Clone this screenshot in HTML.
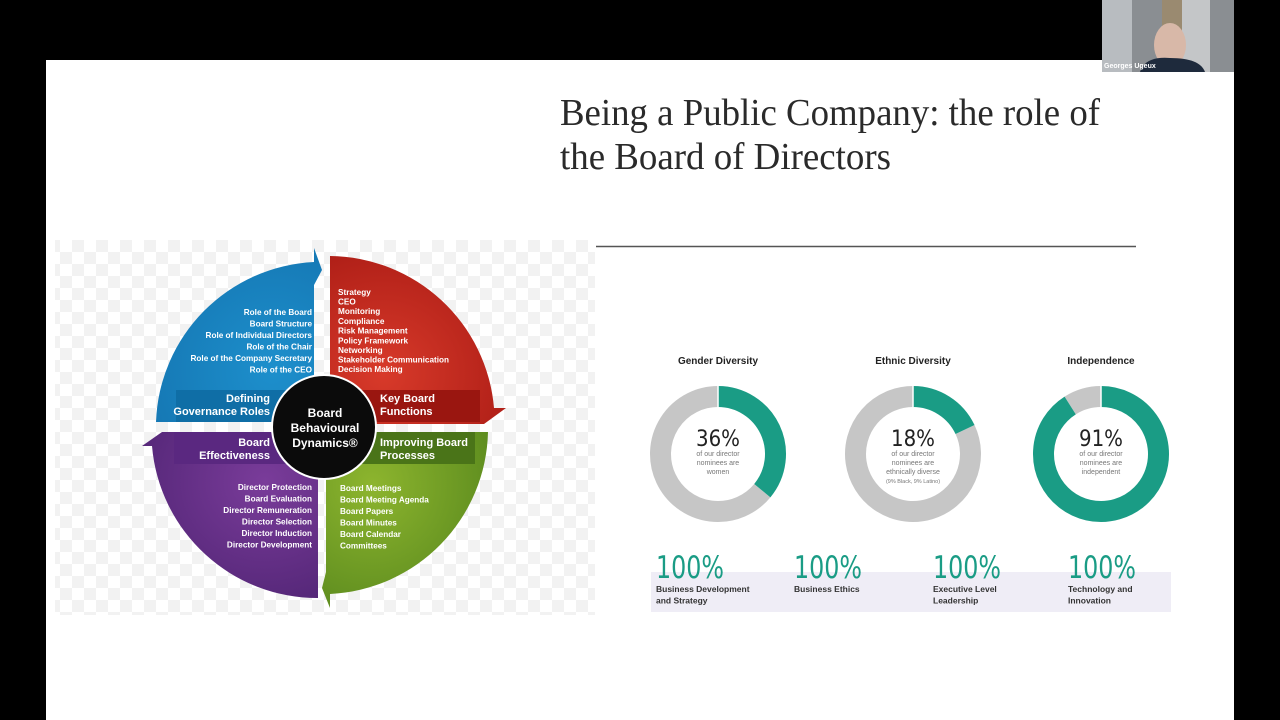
<!DOCTYPE html>
<html><head><meta charset="utf-8">
<style>
html,body{margin:0;padding:0;background:#000;width:1280px;height:720px;overflow:hidden}
svg{display:block;font-family:"Liberation Sans",sans-serif}
</style></head>
<body>
<svg id="s" width="1280" height="720" viewBox="0 0 1280 720" xmlns="http://www.w3.org/2000/svg">
<defs>
<pattern id="chk" width="24" height="24" patternUnits="userSpaceOnUse">
<rect width="24" height="24" fill="#ffffff"/><rect width="12" height="12" fill="#f2f2f2"/><rect x="12" y="12" width="12" height="12" fill="#f2f2f2"/>
</pattern>
<radialGradient id="gb" cx="0.7" cy="0.7" r="0.9"><stop offset="0" stop-color="#1d8fcc"/><stop offset="1" stop-color="#1474b0"/></radialGradient>
<radialGradient id="gr" cx="0.3" cy="0.7" r="0.9"><stop offset="0" stop-color="#d83a2a"/><stop offset="1" stop-color="#a81a14"/></radialGradient>
<radialGradient id="gg" cx="0.3" cy="0.3" r="0.9"><stop offset="0" stop-color="#8db52e"/><stop offset="1" stop-color="#55851c"/></radialGradient>
<radialGradient id="gp" cx="0.7" cy="0.3" r="0.9"><stop offset="0" stop-color="#7a3c9a"/><stop offset="1" stop-color="#4e2372"/></radialGradient>
</defs>
<rect x="0" y="0" width="1280" height="720" fill="#000"/>
<rect x="46" y="60" width="1188" height="660" fill="#ffffff"/>
<g>
<rect x="1102" y="0" width="132" height="72" fill="#8a8e92"/>
<rect x="1102" y="0" width="30" height="72" fill="#b8bcc0"/>
<rect x="1170" y="0" width="40" height="72" fill="#c4c6c8"/>
<rect x="1162" y="0" width="20" height="60" fill="#9a8a70"/>
<ellipse cx="1170" cy="45" rx="16" ry="22" fill="#d8b8a8"/>
<path d="M1140 72 Q1145 56 1170 58 Q1200 58 1205 72Z" fill="#1e2a3c"/>
<text x="1104" y="68" font-size="7" font-weight="bold" fill="#fff">Georges Ugeux</text>
</g>
<text x="560" y="125" font-family="Liberation Serif,serif" font-size="38" fill="#2a2a2a" textLength="540" lengthAdjust="spacingAndGlyphs">Being a Public Company: the role of</text>
<text x="560" y="169" font-family="Liberation Serif,serif" font-size="38" fill="#2a2a2a" textLength="331" lengthAdjust="spacingAndGlyphs">the Board of Directors</text>
<line x1="596" y1="246.5" x2="1136" y2="246.5" stroke="#555" stroke-width="1.5"/>

<g>
<rect x="55" y="240" width="540" height="375" fill="url(#chk)"/>
<path d="M156 422 A166 166 0 0 1 314 262 L314 248 L322 270 L314 285 L314 422Z" fill="url(#gb)"/>
<path d="M330 256 A166 166 0 0 1 494 408 L506 408 L484 424 L470 424 L330 424Z" fill="url(#gr)"/>
<path d="M488 432 A166 166 0 0 1 330 594 L330 608 L322 588 L326 572 L326 432Z" fill="url(#gg)"/>
<path d="M318 598 A166 166 0 0 1 152 446 L142 446 L162 432 L176 432 L318 432Z" fill="url(#gp)"/>
<rect x="176" y="390" width="142" height="32" fill="#0f6ea6"/>
<rect x="330" y="390" width="150" height="32" fill="#9a1610"/>
<rect x="330" y="432" width="145" height="32" fill="#4a7418"/>
<rect x="174" y="432" width="144" height="32" fill="#5a2880"/>
<circle cx="324" cy="427" r="52" fill="#0b0b0b" stroke="#fff" stroke-width="2"/>
<g font-weight="bold" font-size="12" fill="#fff" text-anchor="middle">
<text x="325" y="417">Board</text><text x="325" y="432">Behavioural</text><text x="325" y="447">Dynamics®</text>
</g>
<g font-weight="bold" font-size="11" fill="#fff">
<text x="270" y="402" text-anchor="end">Defining</text><text x="270" y="415" text-anchor="end">Governance Roles</text>
<text x="380" y="402">Key Board</text><text x="380" y="415">Functions</text>
<text x="270" y="446" text-anchor="end">Board</text><text x="270" y="459" text-anchor="end">Effectiveness</text>
<text x="380" y="446">Improving Board</text><text x="380" y="459">Processes</text>
</g>
<g font-weight="bold" font-size="8.2" fill="#fff">
<g text-anchor="end"><text x="312" y="315">Role of the Board</text><text x="312" y="326.5">Board Structure</text><text x="312" y="338">Role of Individual Directors</text><text x="312" y="349.5">Role of the Chair</text><text x="312" y="361">Role of the Company Secretary</text><text x="312" y="372.5">Role of the CEO</text></g>
<text x="338" y="295">Strategy</text><text x="338" y="304.5">CEO</text><text x="338" y="314">Monitoring</text><text x="338" y="324">Compliance</text><text x="338" y="333.5">Risk Management</text><text x="338" y="343.5">Policy Framework</text><text x="338" y="353">Networking</text><text x="338" y="362.5">Stakeholder Communication</text><text x="338" y="372">Decision Making</text>
<g text-anchor="end"><text x="312" y="490">Director Protection</text><text x="312" y="501.5">Board Evaluation</text><text x="312" y="513">Director Remuneration</text><text x="312" y="524.5">Director Selection</text><text x="312" y="536">Director Induction</text><text x="312" y="547.5">Director Development</text></g>
<text x="340" y="491">Board Meetings</text><text x="340" y="502.5">Board Meeting Agenda</text><text x="340" y="514">Board Papers</text><text x="340" y="525.5">Board Minutes</text><text x="340" y="537">Board Calendar</text><text x="340" y="548.5">Committees</text>
</g>
</g>

<rect x="651" y="572" width="520" height="40" fill="#efedf6"/>
<g id="donuts"></g>
<g id="stats"></g>
</svg>
<script>
const donutTitles = ["Gender Diversity","Ethnic Diversity","Independence"];
const donutValues = [36, 18, 91];
const donutDesc = [["of our director","nominees are","women"],["of our director","nominees are","ethnically diverse","(9% Black, 9% Latino)"],["of our director","nominees are","independent"]];
const statValues = ["100%","100%","100%","100%"];
const statLabels = [["Business Development","and Strategy"],["Business Ethics"],["Executive Level","Leadership"],["Technology and","Innovation"]];

const NS="http://www.w3.org/2000/svg";
const cxs=[718,913,1101], cy=454, R=57.5, W=21;
const g=document.getElementById('donuts');
function mk(tag,attrs,parent){const e=document.createElementNS(NS,tag);for(const k in attrs)e.setAttribute(k,attrs[k]);parent.appendChild(e);return e;}
function arc(cx,cy,r,a0,a1){const p=a=>[cx+r*Math.sin(a*2*Math.PI),cy-r*Math.cos(a*2*Math.PI)];const [x0,y0]=p(a0),[x1,y1]=p(a1);return `M${x0} ${y0} A${r} ${r} 0 ${(a1-a0)>0.5?1:0} 1 ${x1} ${y1}`;}
donutValues.forEach((v,i)=>{
  const cx=cxs[i];
  const t=mk('text',{x:cx,y:364,'text-anchor':'middle','font-size':10,'font-weight':'bold',fill:'#222'},g);t.textContent=donutTitles[i];
  
  
  const bg=mk('path',{d:arc(cx,cy,R,v/100,0.99999),fill:'none',stroke:'#c6c6c6','stroke-width':W},g);
  
  
  const fg=mk('path',{d:arc(cx,cy,R,0,v/100),fill:'none',stroke:'#1a9c85','stroke-width':W},g);
  
  
  mk('line',{x1:cx,y1:cy-R-W/2,x2:cx,y2:cy-R+W/2,stroke:'#fff','stroke-width':1.5},g);
  const p=mk('text',{x:cx,y:446,'text-anchor':'middle','font-size':22,fill:'#222','font-family':'DejaVu Sans Condensed, Liberation Sans, sans-serif','font-weight':'300'},g);p.textContent=v+'%';
  
  
  donutDesc[i].forEach((l,j)=>{const d=mk('text',{x:cx,y:456+j*9,'text-anchor':'middle','font-size':j==3?5.5:7,fill:'#777'},g);if(j==3)d.setAttribute('y',483);d.textContent=l;
  
  });
});
const sg=document.getElementById('stats');
const sx=[656,794,933,1068];
statValues.forEach((v,i)=>{
  const t=mk('text',{x:sx[i],y:578,'font-size':31,fill:'#1a9c85','font-family':'DejaVu Sans Condensed, Liberation Sans, sans-serif',textLength:68,lengthAdjust:'spacingAndGlyphs'},sg);t.textContent=v;
  
  
  statLabels[i].forEach((l,j)=>{const d=mk('text',{x:sx[i],y:592+j*11.5,'font-size':8.5,'font-weight':'bold',fill:'#333'},sg);d.textContent=l;
  
  });
});
</script>
</body></html>
